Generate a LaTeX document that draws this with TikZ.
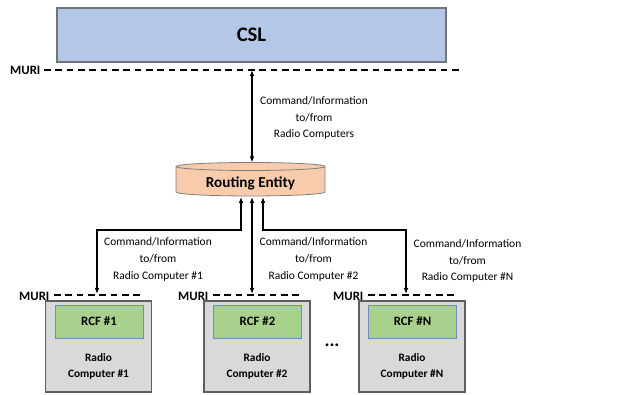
\documentclass[tikz,border=0pt]{standalone}
\usepackage{fontspec}
\setmainfont{Carlito}
\usetikzlibrary{arrows.meta,calc}
\definecolor{cslfill}{HTML}{B4C7E7}
\definecolor{cslline}{HTML}{6F7580}
\definecolor{refill}{HTML}{F8CBAD}
\definecolor{reline}{HTML}{7F7F7F}
\definecolor{rcfill}{HTML}{D9D9D9}
\definecolor{rcline}{HTML}{5F5F5F}
\definecolor{rcffill}{HTML}{A9D18E}
\definecolor{rcfline}{HTML}{6A8CC0}
\tikzset{
  murilabel/.style={font=\bfseries\fontsize{9.6}{11}\selectfont, anchor=east, inner sep=1pt},
  murilinestyle/.style={line width=0.9pt, dash pattern=on 5pt off 3.5pt},
  link/.style={line width=1.1pt, {Latex[length=4.5pt,width=3.5pt]}-{Latex[length=4.5pt,width=3.5pt]}},
  linktext/.style={font=\fontsize{8.6}{12.6}\selectfont, align=center, inner sep=0pt},
  rcbox/.style={draw=rcline, fill=rcfill, line width=0.8pt, minimum width=106*0.75pt, minimum height=91*0.75pt, inner sep=0pt},
  rcfbox/.style={draw=rcfline, fill=rcffill, line width=0.6pt, minimum width=88*0.75pt, minimum height=33*0.75pt, inner sep=0pt, font=\bfseries\fontsize{9.6}{11}\selectfont},
  rctext/.style={font=\bfseries\fontsize{8.5}{12}\selectfont, align=center, inner sep=0pt}
}
\begin{document}
\begin{tikzpicture}[x=0.75pt,y=0.75pt]
\useasboundingbox (0,0) rectangle (623,395);

% CSL layer
\node[draw=cslline, fill=cslfill, line width=0.9pt, minimum width=389*0.75pt, minimum height=54*0.75pt,
      font=\bfseries\fontsize{15.5}{18}\selectfont] (csl) at (251.5,360) {CSL};

% upper MURI
\coordinate (m0a) at (44,325);
\coordinate (m0b) at (462,325);
\node[murilabel] (mur0) at (42,325) {MURI};
\draw[murilinestyle] (m0a) -- (m0b);

% routing entity (drum)
\draw[reline, fill=refill, line width=0.6pt]
  (176,228.5) -- (176,203) arc[start angle=180, end angle=360, x radius=74.5, y radius=4]
  -- (325,228.5) arc[start angle=0, end angle=180, x radius=74.5, y radius=4] -- cycle;
\draw[reline, line width=0.6pt] (176,228.5) arc[start angle=180, end angle=360, x radius=74.5, y radius=4];
\node[minimum width=149*0.75pt, minimum height=35*0.75pt, inner sep=0pt] (re) at (250.5,215.5) {};
\node[font=\bfseries\fontsize{11.4}{13}\selectfont] (retext) at (250.5,212) {Routing Entity};

% CSL <-> routing entity
\coordinate (reTop) at (252,232.5);
\coordinate (muriTop) at (252,325);
\draw[link] (muriTop) -- (reTop);
\node[linktext] (lab0) at (314,277) {Command/Information\\to/from\\Radio Computers};

% radio computers
\foreach \i/\x/\t in {1/98.5/1, 2/257/2, 3/412/N}{
  \node[rcbox] (rc\i) at (\x,48.5) {};
  \node[rcfbox] (rcf\i) at (\x+0.5,73.5) {RCF \#\t};
  \node[rctext] (rct\i) at (\x,29) {Radio\\Computer \#\t};
}
\node[font=\bfseries\fontsize{14}{14}\selectfont] (dots) at (332,50) {...};

% lower MURI lines
\foreach \i/\a/\b in {1/54/143, 2/213/302, 3/368/457}{
  \coordinate (ma\i) at (\a,100);
  \coordinate (mb\i) at (\b,100);
  \node[murilabel] (mur\i) at (\a-3,99) {MURI};
  \draw[murilinestyle] (ma\i) -- (mb\i);
}

% routing entity <-> radio computers
\coordinate (s1) at (241,198);
\coordinate (s2) at (252,198);
\coordinate (s3) at (263,198);
\coordinate (e1) at (97,101);
\coordinate (e2) at (252,101);
\coordinate (e3) at (406,101);
\draw[link] (s1) |- (170,165) -| (e1);
\draw[link] (s2) -- (e2);
\draw[link] (s3) |- (330,165) -| (e3);

\node[linktext] (lab1) at (158,135.5) {Command/Information\\to/from\\Radio Computer \#1};
\node[linktext] (lab2) at (313.5,135.5) {Command/Information\\to/from\\Radio Computer \#2};
\node[linktext] (lab3) at (467.5,134) {Command/Information\\to/from\\Radio Computer \#N};
\end{tikzpicture}
\end{document}
